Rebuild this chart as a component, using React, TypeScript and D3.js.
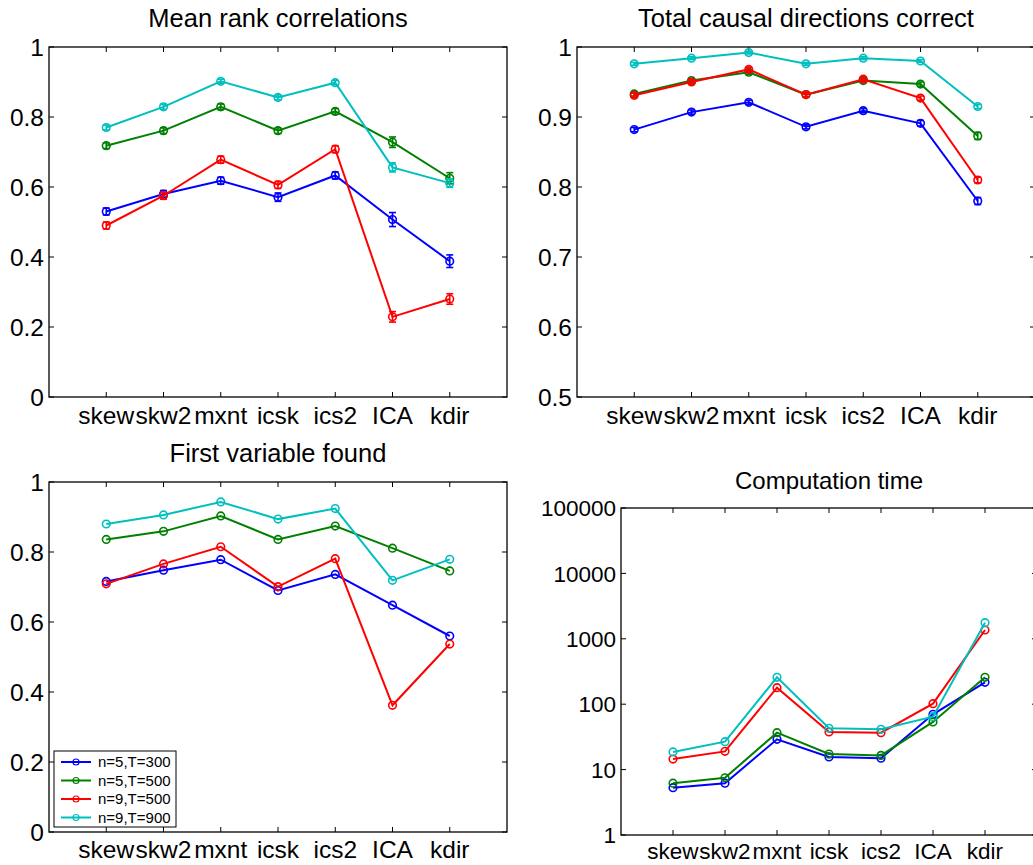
import React from 'react';
import * as d3 from 'd3';

const methods = ['skew', 'skw2', 'mxnt', 'icsk', 'ics2', 'ICA', 'kdir'];
const seriesLabels = ['n=5,T=300', 'n=5,T=500', 'n=9,T=500', 'n=9,T=900'];
const seriesColors = ['#0000ff', '#008000', '#ff0000', '#00bfbf'];

// Mean rank correlations
const rankN5T300 = [0.530, 0.580, 0.618, 0.571, 0.633, 0.507, 0.388];
const rankN5T500 = [0.718, 0.761, 0.829, 0.761, 0.816, 0.728, 0.625];
const rankN9T500 = [0.490, 0.575, 0.678, 0.606, 0.708, 0.229, 0.280];
const rankN9T900 = [0.770, 0.829, 0.902, 0.856, 0.898, 0.656, 0.611];
const rankErrN5T300 = [0.01, 0.01, 0.01, 0.012, 0.01, 0.02, 0.018];
const rankErrN5T500 = [0.008, 0.008, 0.008, 0.008, 0.008, 0.015, 0.016];
const rankErrN9T500 = [0.01, 0.01, 0.01, 0.01, 0.01, 0.015, 0.015];
const rankErrN9T900 = [0.007, 0.007, 0.006, 0.007, 0.006, 0.013, 0.012];

// Total causal directions correct
const dirN5T300 = [0.882, 0.907, 0.921, 0.886, 0.909, 0.891, 0.780];
const dirN5T500 = [0.933, 0.952, 0.964, 0.932, 0.952, 0.947, 0.873];
const dirN9T500 = [0.931, 0.950, 0.968, 0.932, 0.954, 0.927, 0.810];
const dirN9T900 = [0.976, 0.984, 0.992, 0.976, 0.984, 0.980, 0.915];
const dirErrN5T300 = [0.003, 0.003, 0.003, 0.003, 0.003, 0.004, 0.005];
const dirErrN5T500 = [0.003, 0.003, 0.003, 0.003, 0.003, 0.003, 0.005];
const dirErrN9T500 = [0.003, 0.003, 0.003, 0.003, 0.003, 0.003, 0.004];
const dirErrN9T900 = [0.002, 0.002, 0.002, 0.002, 0.002, 0.002, 0.003];

// First variable found
const firstN5T300 = [0.716, 0.748, 0.778, 0.690, 0.736, 0.648, 0.560];
const firstN5T500 = [0.836, 0.859, 0.903, 0.836, 0.874, 0.811, 0.746];
const firstN9T500 = [0.709, 0.766, 0.815, 0.701, 0.781, 0.362, 0.537];
const firstN9T900 = [0.880, 0.906, 0.943, 0.894, 0.924, 0.719, 0.779];

// Computation time
const timeN5T300 = [5.3, 6.2, 29, 15.6, 14.9, 70, 216];
const timeN5T500 = [6.2, 7.5, 36.7, 17.3, 16.5, 53.5, 258];
const timeN9T500 = [14.5, 19, 179, 37.6, 36.7, 102, 1364];
const timeN9T900 = [18.6, 26.7, 258, 42.8, 41.3, 64.5, 1765];

const linearTicks1 = [0, 0.2, 0.4, 0.6, 0.8, 1];
const linearTicks2 = [0.5, 0.6, 0.7, 0.8, 0.9, 1];
const logTicks = [1, 10, 100, 1000, 10000, 100000];

const FONT = '"Liberation Sans", Arial, Helvetica, sans-serif';

type PanelCfg = {
  title: string;
  left: number; right: number; top: number; bottom: number;
  domain: [number, number];
  log?: boolean;
  ticks: number[];
  values: number[][];
  errs?: number[][];
  fontSize: number;
  titleSize: number;
  titleY: number;
  labelGap: number;
  legend?: boolean;
};

const panels: PanelCfg[] = [
  {
    title: 'Mean rank correlations', left: 49, right: 507, top: 47, bottom: 397,
    domain: [0, 1], ticks: linearTicks1,
    values: [rankN5T300, rankN5T500, rankN9T500, rankN9T900],
    errs: [rankErrN5T300, rankErrN5T500, rankErrN9T500, rankErrN9T900],
    fontSize: 24.5, titleSize: 25.5, titleY: 27, labelGap: 27,
  },
  {
    title: 'Total causal directions correct', left: 577, right: 1035, top: 47, bottom: 397,
    domain: [0.5, 1], ticks: linearTicks2,
    values: [dirN5T300, dirN5T500, dirN9T500, dirN9T900],
    errs: [dirErrN5T300, dirErrN5T500, dirErrN9T500, dirErrN9T900],
    fontSize: 24.5, titleSize: 25.5, titleY: 27, labelGap: 27,
  },
  {
    title: 'First variable found', left: 49, right: 507, top: 482, bottom: 832,
    domain: [0, 1], ticks: linearTicks1,
    values: [firstN5T300, firstN5T500, firstN9T500, firstN9T900],
    fontSize: 24.5, titleSize: 25.5, titleY: 462, labelGap: 26, legend: true,
  },
  {
    title: 'Computation time', left: 621, right: 1037, top: 508, bottom: 835,
    domain: [1, 100000], log: true, ticks: logTicks,
    values: [timeN5T300, timeN5T500, timeN9T500, timeN9T900],
    fontSize: 22.5, titleSize: 24, titleY: 489, labelGap: 24,
  },
];

function Panel({ p }: { p: PanelCfg }) {
  const x = d3.scaleLinear().domain([0, methods.length + 1]).range([p.left, p.right]);
  const y = p.log
    ? d3.scaleLog().domain(p.domain).range([p.bottom, p.top])
    : d3.scaleLinear().domain(p.domain).range([p.bottom, p.top]);
  const line = d3
    .line<number>()
    .x((_, i) => x(i + 1))
    .y((d) => y(d));
  const tl = 5;
  const cx = (p.left + p.right) / 2;
  return (
    <g>
      <text x={cx} y={p.titleY} textAnchor="middle" fontSize={p.titleSize} fontFamily={FONT} fill="#000">
        {p.title}
      </text>
      {p.ticks.map((t) => (
        <g key={'y' + t}>
          <line x1={p.left} x2={p.left + tl} y1={y(t)} y2={y(t)} stroke="#000" strokeWidth={1} />
          <line x1={p.right} x2={p.right - tl} y1={y(t)} y2={y(t)} stroke="#000" strokeWidth={1} />
          <text
            x={p.left - 5}
            y={y(t)}
            dy="0.36em"
            textAnchor="end"
            fontSize={p.fontSize}
            fontFamily={FONT}
            fill="#000"
          >
            {String(t)}
          </text>
        </g>
      ))}
      {methods.map((m, i) => (
        <g key={'x' + m}>
          <line x1={x(i + 1)} x2={x(i + 1)} y1={p.bottom} y2={p.bottom - tl} stroke="#000" strokeWidth={1} />
          <line x1={x(i + 1)} x2={x(i + 1)} y1={p.top} y2={p.top + tl} stroke="#000" strokeWidth={1} />
          <text
            x={x(i + 1)}
            y={p.bottom + p.labelGap}
            textAnchor="middle"
            fontSize={p.fontSize}
            fontFamily={FONT}
            fill="#000"
          >
            {m}
          </text>
        </g>
      ))}
      <rect
        x={p.left}
        y={p.top}
        width={p.right - p.left}
        height={p.bottom - p.top}
        fill="none"
        stroke="#000"
        strokeWidth={1.3}
      />
      {p.values.map((vals, s) => (
        <g key={'s' + s}>
          <path d={line(vals) || ''} fill="none" stroke={seriesColors[s]} strokeWidth={2} />
          {p.errs &&
            vals.map((v, i) => {
              const e = p.errs![s][i];
              const xx = x(i + 1);
              return (
                <g key={'e' + i} stroke={seriesColors[s]} strokeWidth={1.6}>
                  <line x1={xx} x2={xx} y1={y(v - e)} y2={y(v + e)} />
                  <line x1={xx - 3.5} x2={xx + 3.5} y1={y(v - e)} y2={y(v - e)} />
                  <line x1={xx - 3.5} x2={xx + 3.5} y1={y(v + e)} y2={y(v + e)} />
                </g>
              );
            })}
          {vals.map((v, i) => (
            <circle
              key={'c' + i}
              cx={x(i + 1)}
              cy={y(v)}
              r={3.8}
              fill="none"
              stroke={seriesColors[s]}
              strokeWidth={1.6}
            />
          ))}
        </g>
      ))}
      {p.legend && (
        <g>
          <rect x={54} y={751} width={122} height={76} fill="#fff" stroke="#000" strokeWidth={1} />
          {seriesLabels.map((lab, s) => {
            const ly = 762 + s * 18.5;
            return (
              <g key={'l' + s}>
                <line x1={61} x2={91} y1={ly} y2={ly} stroke={seriesColors[s]} strokeWidth={2} />
                <circle cx={76} cy={ly} r={3} fill="none" stroke={seriesColors[s]} strokeWidth={1.2} />
                <text x={98} y={ly} dy="0.36em" fontSize={15} fontFamily={FONT} fill="#000">
                  {lab}
                </text>
              </g>
            );
          })}
        </g>
      )}
    </g>
  );
}

export default function App() {
  return (
    <svg
      width={1033}
      height={865}
      viewBox="0 0 1033 865"
      style={{ position: 'absolute', left: 0, top: 0, background: '#fff' }}
    >
      <rect x={0} y={0} width={1033} height={865} fill="#fff" />
      {panels.map((p, i) => (
        <Panel key={i} p={p} />
      ))}
    </svg>
  );
}
